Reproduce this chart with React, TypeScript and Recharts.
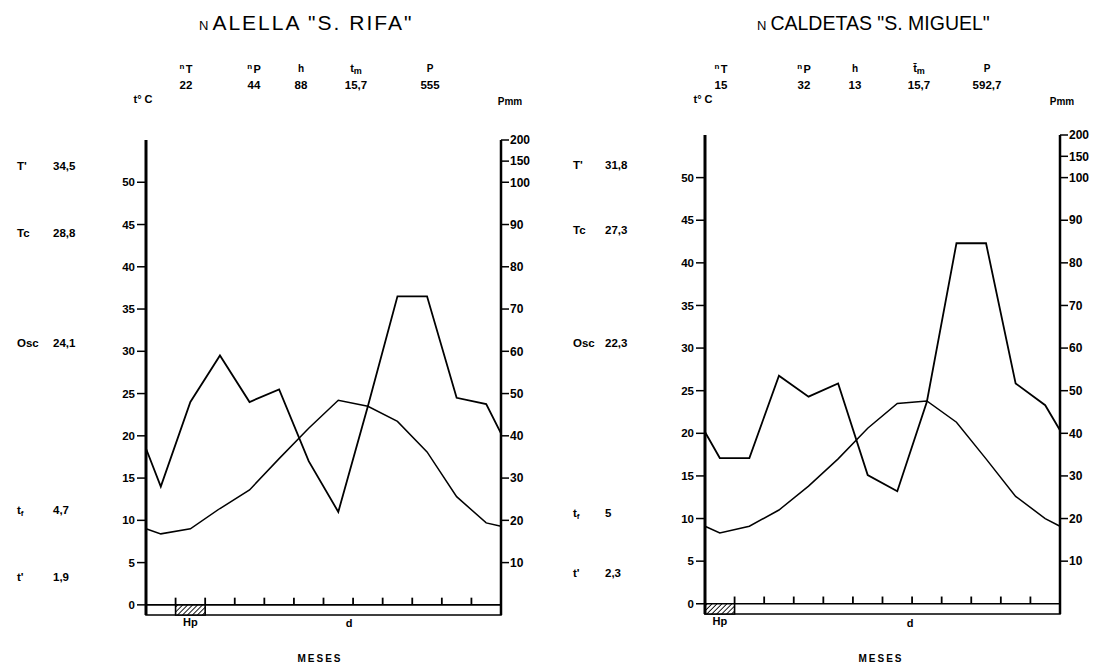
import React from 'react';
import { LineChart, Line, XAxis, YAxis, ReferenceArea, ReferenceLine } from 'recharts';

// x positions in months: axis edges and mid-month points (Jan..Dec)
const monthPos = [0, 0.5, 1.5, 2.5, 3.5, 4.5, 5.5, 6.5, 7.5, 8.5, 9.5, 10.5, 11.5, 12];
const monthBounds = [1, 2, 3, 4, 5, 6, 7, 8, 9, 10, 11];

const alellaTemp = [9.0, 8.4, 9.0, 11.4, 13.6, 17.3, 20.9, 24.2, 23.5, 21.7, 18.1, 12.8, 9.7, 9.3];
const alellaPrec = [37, 28, 48, 59, 48, 51, 34, 22, 47, 73, 73, 49, 47.5, 40.6];
const caldetasTemp = [9.1, 8.3, 9.1, 11.0, 13.8, 17.0, 20.6, 23.5, 23.8, 21.3, 17.0, 12.6, 10.0, 9.1];
const caldetasPrec = [40.3, 34.2, 34.2, 53.5, 48.6, 51.7, 30.2, 26.4, 47.4, 84.6, 84.6, 51.7, 46.6, 40.7];

const tempTicks = [0, 5, 10, 15, 20, 25, 30, 35, 40, 45, 50];
const precTicks = [10, 20, 30, 40, 50, 60, 70, 80, 90, 100, 150, 200];

const headerNamesAlella = ['nT', 'nP', 'h', 'tm', 'P'];
const headerNamesCaldetas = ['nT', 'nP', 'h', 't̄m', 'P'];
const alellaHeader = ['22', '44', '88', '15,7', '555'];
const caldetasHeader = ['15', '32', '13', '15,7', '592,7'];

const statNames = ["T'", 'Tc', 'Osc', 'tf', "t'"];
const alellaStats = ['34,5', '28,8', '24,1', '4,7', '1,9'];
const caldetasStats = ['31,8', '27,3', '22,3', '5', '2,3'];

const alellaHp = [1, 2];
const caldetasHp = [0, 1];

const FONT = "'Liberation Sans', Arial, sans-serif";

// Gaussen scale: P = 2T up to 100 mm; above 100 mm the scale is reduced to 1/10
const compress = (mm: number) => (mm <= 100 ? mm : 100 + (mm - 100) / 10);
const expand = (v: number) => (v <= 100 ? v : 100 + (v - 100) * 10);

const TEMP_MIN = -1.2;
const TEMP_MAX = 55;
const STRIP = -1.2;

function HeaderName({ name }: { name: string }) {
  if (name === 'nT' || name === 'nP') {
    return (
      <>
        <tspan fontSize={8} dy={-3}>n</tspan>
        <tspan fontSize={11} dx={1.5} dy={4}>{name[1]}</tspan>
      </>
    );
  }
  if (name === 'tm' || name === 't̄m') {
    return (
      <>
        <tspan fontSize={11}>{name === 'tm' ? 't' : 't\u0304'}</tspan>
        <tspan fontSize={9} dy={2}>m</tspan>
      </>
    );
  }
  return <tspan fontSize={10}>{name}</tspan>;
}

function StatName({ name }: { name: string }) {
  if (name === 'tf') {
    return (
      <>
        <tspan>t</tspan>
        <tspan fontSize={8} dy={2}>f</tspan>
      </>
    );
  }
  return <tspan>{name}</tspan>;
}

type PanelProps = {
  id: string;
  left: number;
  temp: number[];
  prec: number[];
  hp: number[];
  headerNames: string[];
  headerValues: string[];
  stats: string[];
  layout: {
    plotLeft: number;
    plotRight: number;
    top: number;
    bottom: number;
    titleX: number;
    titleSize: number;
    titleSpacing: number;
    titleRest: string;
    headerX: number[];
    tcX: number;
    pmmX: number;
    statLabelX: number;
    statValueX: number;
    statY: number[];
    dX: number;
    mesesX: number;
  };
};

function Panel({ id, left, temp, prec, hp, headerNames, headerValues, stats, layout }: PanelProps) {
  const W = 553;
  const H = 668;
  const data = monthPos.map((x, i) => ({ x, t: temp[i], p: compress(prec[i]) }));
  const ptTicks = precTicks.map(compress);
  const leftAxisW = 40;
  const rightAxisW = 45;
  return (
    <div style={{ position: 'absolute', left, top: 0, width: W, height: H }}>
      <div style={{ position: 'absolute', left: 0, top: 0 }}>
        <LineChart
          width={W}
          height={H}
          data={data}
          margin={{
            top: layout.top,
            bottom: H - layout.bottom,
            left: layout.plotLeft - leftAxisW,
            right: W - layout.plotRight - rightAxisW,
          }}
        >
          <defs>
            <pattern id={`hatch-${id}`} width={3.5} height={3.5} patternUnits="userSpaceOnUse" patternTransform="rotate(45)">
              <rect width={3.5} height={3.5} fill="#fff" />
              <line x1={0} y1={0} x2={0} y2={3.5} stroke="#000" strokeWidth={1.8} />
            </pattern>
          </defs>
          <XAxis dataKey="x" type="number" domain={[0, 12]} hide />
          <YAxis
            yAxisId="t"
            orientation="left"
            type="number"
            domain={[TEMP_MIN, TEMP_MAX]}
            ticks={tempTicks}
            interval={0}
            width={leftAxisW}
            allowDataOverflow
            axisLine={{ stroke: '#000', strokeWidth: 3 }}
            tickLine={{ stroke: '#000', strokeWidth: 1.5 }}
            tickSize={9}
            tickMargin={2}
            tick={{ fill: '#000', fontSize: 11.5, fontWeight: 700, fontFamily: FONT }}
          />
          <YAxis
            yAxisId="p"
            orientation="right"
            type="number"
            domain={[TEMP_MIN * 2, TEMP_MAX * 2]}
            ticks={ptTicks}
            interval={0}
            width={rightAxisW}
            allowDataOverflow
            tickFormatter={(v: number) => String(Math.round(expand(v)))}
            axisLine={{ stroke: '#000', strokeWidth: 2.5 }}
            tickLine={{ stroke: '#000', strokeWidth: 1.5 }}
            tickSize={8}
            tickMargin={1}
            tick={{ fill: '#000', fontSize: 12, fontWeight: 700, fontFamily: FONT }}
          />
          <ReferenceArea
            yAxisId="t"
            x1={0}
            x2={12}
            y1={STRIP}
            y2={0}
            fill="#fff"
            fillOpacity={1}
            stroke="#000"
            strokeWidth={1.6}
            ifOverflow="visible"
          />
          <ReferenceArea
            yAxisId="t"
            x1={hp[0]}
            x2={hp[1]}
            y1={STRIP}
            y2={0}
            fill={`url(#hatch-${id})`}
            fillOpacity={1}
            stroke="#000"
            strokeWidth={1.6}
            ifOverflow="visible"
            label={{ value: 'Hp', position: 'bottom', offset: 3, fill: '#000', fontSize: 11, fontWeight: 700, fontFamily: FONT }}
          />
          {monthBounds.map((k) => (
            <ReferenceLine
              key={k}
              yAxisId="t"
              segment={[{ x: k, y: 0 }, { x: k, y: 0.85 }]}
              stroke="#000"
              strokeWidth={1.8}
              ifOverflow="visible"
            />
          ))}
          <Line yAxisId="t" type="linear" dataKey="t" stroke="#000" strokeWidth={1.5} dot={false} isAnimationActive={false} />
          <Line yAxisId="p" type="linear" dataKey="p" stroke="#000" strokeWidth={1.8} dot={false} isAnimationActive={false} />
        </LineChart>
      </div>
      <svg
        width={W}
        height={H}
        style={{ position: 'absolute', left: 0, top: 0, pointerEvents: 'none' }}
        fontFamily={FONT}
      >
        <text x={layout.titleX} y={30} fill="#000">
          <tspan fontSize={13}>N</tspan>
          <tspan fontSize={layout.titleSize} letterSpacing={layout.titleSpacing} dx={4}>{layout.titleRest}</tspan>
        </text>
        {headerNames.map((n, i) => (
          <text key={`hn${i}`} x={layout.headerX[i]} y={72} textAnchor="middle" fontWeight={700} fill="#000">
            <HeaderName name={n} />
          </text>
        ))}
        {headerValues.map((v, i) => (
          <text key={`hv${i}`} x={layout.headerX[i]} y={89} textAnchor="middle" fontWeight={700} fontSize={11.5} fill="#000">
            {v}
          </text>
        ))}
        <text x={layout.tcX} y={103} textAnchor="middle" fontWeight={700} fontSize={11} fill="#000">
          t° C
        </text>
        <text x={layout.pmmX} y={105} textAnchor="middle" fontWeight={700} fontSize={10} fill="#000">
          Pmm
        </text>
        {statNames.map((n, i) => (
          <text key={`sn${i}`} x={layout.statLabelX} y={layout.statY[i]} fontWeight={700} fontSize={11.5} fill="#000">
            <StatName name={n} />
          </text>
        ))}
        {stats.map((v, i) => (
          <text key={`sv${i}`} x={layout.statValueX} y={layout.statY[i]} fontWeight={700} fontSize={11.5} fill="#000">
            {v}
          </text>
        ))}
        <text x={layout.dX} y={627} textAnchor="middle" fontWeight={700} fontSize={11} fill="#000">
          d
        </text>
        <text x={layout.mesesX} y={662} textAnchor="middle" fontWeight={700} fontSize={10} letterSpacing={2} fill="#000">
          MESES
        </text>
      </svg>
    </div>
  );
}

export default function App() {
  return (
    <div
      style={{
        position: 'absolute',
        left: 0,
        top: 0,
        width: 1106,
        height: 668,
        background: '#fff',
        overflow: 'hidden',
        fontFamily: FONT,
      }}
    >
      <Panel
        id="alella"
        left={0}
        temp={alellaTemp}
        prec={alellaPrec}
        hp={alellaHp}
        headerNames={headerNamesAlella}
        headerValues={alellaHeader}
        stats={alellaStats}
        layout={{
          plotLeft: 146,
          plotRight: 501,
          top: 140,
          bottom: 615,
          titleX: 199,
          titleSize: 21,
          titleSpacing: 2,
          titleRest: 'ALELLA "S. RIFA"',
          headerX: [186, 254, 301, 356, 430],
          tcX: 143,
          pmmX: 510,
          statLabelX: 17,
          statValueX: 53,
          statY: [170, 237, 347, 514, 581],
          dX: 349,
          mesesX: 320,
        }}
      />
      <Panel
        id="caldetas"
        left={553}
        temp={caldetasTemp}
        prec={caldetasPrec}
        hp={caldetasHp}
        headerNames={headerNamesCaldetas}
        headerValues={caldetasHeader}
        stats={caldetasStats}
        layout={{
          plotLeft: 152,
          plotRight: 507,
          top: 135,
          bottom: 614,
          titleX: 204,
          titleSize: 19.5,
          titleSpacing: 0,
          titleRest: 'CALDETAS "S. MIGUEL"',
          headerX: [168, 251, 302, 366, 434],
          tcX: 150,
          pmmX: 509,
          statLabelX: 20,
          statValueX: 52,
          statY: [169, 234, 347, 517, 577],
          dX: 357,
          mesesX: 328,
        }}
      />
    </div>
  );
}
